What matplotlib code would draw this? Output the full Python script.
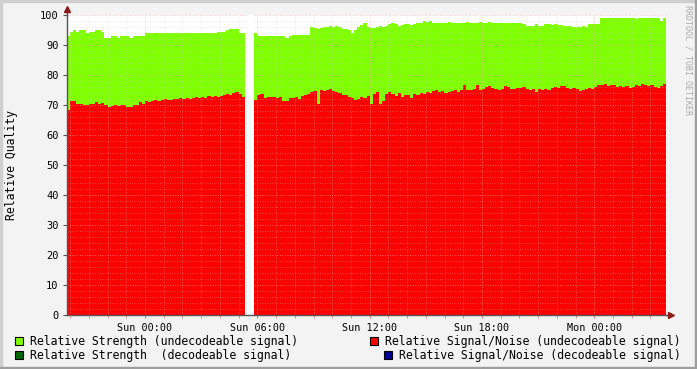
import numpy as np
import matplotlib.pyplot as plt
from matplotlib.patches import Rectangle
from matplotlib.ticker import MultipleLocator

# Data: 10-minute samples, time in hours relative to Sun 00:00
t_start = -4.17
step = 1.0 / 6.0

# top of the stack (relative strength), NaN = no data
strength = [
    93, 94.5, 95, 94.5, 95, 95, 94, 94.5, 94.5, 95,
    95, 94.5, 92.5, 92.5, 93, 93, 92.5, 93, 93, 93,
    92.5, 93, 93, 93, 93, 94, 94, 94, 94, 94,
    94, 94, 94, 94, 94, 94, 94, 94, 94, 94,
    94, 94, 94, 94, 94, 94, 94, 94, 94.3, 94.5,
    94.5, 95, 95.5, 95.5, 95.3, 94, 94, 93.5, np.nan, np.nan,
    94, 93, 93, 93, 93, 93, 93, 93, 93, 93,
    92.5, 93, 93.5, 93.5, 93.5, 93.5, 93.3, 93.3, 96, 95.7,
    95.5, 95.7, 96, 96, 96.3, 96, 96.3, 96, 95.5, 95.3,
    95, 94, 95, 96, 96.7, 97.3, 96, 95.7, 95.7, 96,
    96.3, 96, 96.5, 97, 97.3, 97, 96.5, 96.7, 97, 97,
    96.7, 97, 97.3, 97.3, 98, 97.7, 98, 97.3, 97.3, 97.3,
    97.5, 97.3, 97.7, 97.3, 97.3, 97.5, 97.3, 97.3, 97.7, 97.3,
    97.3, 97.3, 97.7, 97.3, 97.3, 97.7, 97.3, 97.3, 97.3, 97.5,
    97.3, 97.3, 97.3, 97.5, 97.3, 97.3, 97, 96.3, 96.3, 96.3,
    97, 96.3, 96.3, 97, 97, 96.7, 97, 96.7, 96.7, 96.3,
    96.5, 96.3, 96, 96, 96, 96.3, 96, 97, 97, 97,
    97, 99, 99, 99, 99, 99, 99, 99, 99, 99,
    99, 99, 98.7, 99, 99, 99, 99, 99, 99, 99,
    98, 99,
]

# relative signal/noise (red)
snr = [
    68.5, 71.5, 71.5, 70.5, 70.5, 70, 70, 70.5, 70.5, 71,
    70.5, 70.7, 70, 69.3, 69.7, 70, 69.7, 70, 70, 69.5,
    69.3, 70, 70, 71, 70.5, 71.3, 71, 71.3, 71.7, 71.3,
    71.7, 72, 71.7, 71.7, 72, 72, 72.3, 72, 72.3, 72,
    72.3, 72.7, 72.3, 72.7, 72.3, 73, 72.7, 73, 72.7, 73,
    73.3, 73.7, 73.3, 74, 74.3, 73.7, 72.7, 73, np.nan, np.nan,
    71.7, 73.5, 73.7, 72.3, 72.7, 72.7, 72.7, 72.3, 72.7, 71.3,
    71.5, 72.3, 72.5, 72.7, 72, 73, 73.3, 73.7, 74.3, 74.7,
    70.5, 75, 74.7, 75, 75.3, 74.7, 74.3, 74, 73.3, 73.5,
    72.7, 72.3, 71.7, 72, 72.7, 72.3, 73, 70.5, 73.7, 74.3,
    70.3, 71.5, 73.7, 74.3, 73.7, 73, 74, 72.7, 73.5, 73.3,
    72.3, 73.7, 73.3, 74, 73.7, 74.3, 74, 74.7, 75, 74.3,
    74.7, 74, 74.3, 74.7, 75, 74.3, 75, 76.7, 75, 75,
    75.3, 76.7, 75, 75.3, 76, 76.3, 75.7, 75.3, 75, 75.3,
    76.3, 76, 75.3, 75.3, 75.7, 75.7, 76, 75.3, 75, 75.3,
    74.3, 75.3, 75, 75.3, 75, 75.7, 76, 75.7, 76.3, 76.3,
    75.7, 75.3, 75.7, 75.3, 74.7, 75, 75.3, 75.7, 75.3, 76,
    76.7, 76.7, 77, 76.3, 76.7, 76.7, 76, 76.3, 76, 76.3,
    75.7, 76, 76.7, 76.3, 77, 76.7, 76.3, 76.7, 76, 75.7,
    76.3, 77,
]

tick_pos = [0, 6, 12, 18, 24]
tick_labels = ['Sun 00:00', 'Sun 06:00', 'Sun 12:00', 'Sun 18:00', 'Mon 00:00']

legend_items = [
    ('Relative Strength (undecodeable signal)', '#80ff00'),
    ('Relative Signal/Noise (undecodeable signal)', '#ff0000'),
    ('Relative Strength  (decodeable signal)', '#006600'),
    ('Relative Signal/Noise (decodeable signal)', '#000099'),
]

W, H = 697, 369
mono = 'DejaVu Sans Mono'
fig = plt.figure(figsize=(W / 100, H / 100), dpi=100, facecolor='#f3f3f3')

# frame around the canvas
fig.patches.append(Rectangle((0, 1 - 2 / H), 1, 2 / H, transform=fig.transFigure,
                             color='#cfcfcf', zorder=0))
fig.patches.append(Rectangle((0, 0), 2 / W, 1, transform=fig.transFigure,
                             color='#cfcfcf', zorder=0))
fig.patches.append(Rectangle((0, 0), 1, 2 / H, transform=fig.transFigure,
                             color='#9e9e9e', zorder=0))
fig.patches.append(Rectangle((1 - 2 / W, 0), 2 / W, 1, transform=fig.transFigure,
                             color='#9e9e9e', zorder=0))

ax = fig.add_axes([67 / W, 1 - 315 / H, 599 / W, 300 / H])
ax.set_facecolor('white')

strength = np.array(strength, dtype=float)
snr = np.array(snr, dtype=float)
edges = t_start + np.arange(len(strength) + 1) * step
xs = edges
g = np.append(strength, strength[-1])
r = np.append(snr, snr[-1])

ax.fill_between(xs, 0, g, step='post', color='#80ff00', lw=0, antialiased=False, zorder=1)
ax.fill_between(xs, 0, r, step='post', color='#ff0000', lw=0, antialiased=False, zorder=1)

ax.set_xlim(edges[0], edges[-1])
ax.set_ylim(0, 100)

# grid drawn over the data, like rrdtool
for v in np.arange(0, 101, 2):
    if v % 10 == 0:
        ax.axhline(v, color='#f0a8a8', lw=0.6, ls=(0, (1, 2)), alpha=0.8, zorder=2)
    else:
        ax.axhline(v, color='#c8c8c8', lw=0.6, ls=(0, (1, 2)), alpha=0.5, zorder=2)
for h in range(-4, 28):
    if h % 6 == 0:
        ax.axvline(h, color='#f0a8a8', lw=0.6, ls=(0, (1, 2)), alpha=0.8, zorder=2)
    else:
        ax.axvline(h, color='#c8c8c8', lw=0.6, ls=(0, (1, 2)), alpha=0.5, zorder=2)

# missing samples shown blank
for i in np.where(np.isnan(strength))[0]:
    ax.axvspan(edges[i], edges[i + 1], color='white', lw=0, zorder=3)

ax.set_xticks(tick_pos)
ax.set_xticklabels(tick_labels, fontfamily=mono, fontsize=7.3)
ax.xaxis.set_minor_locator(MultipleLocator(1))
ax.set_yticks(np.arange(0, 101, 10))
ax.set_yticklabels([str(v) for v in range(0, 101, 10)], fontfamily=mono, fontsize=7.5)
ax.tick_params(axis='x', which='both', length=2, color='#d08080', pad=4)
ax.tick_params(axis='y', which='major', length=3, color='#555555', pad=3)
ax.tick_params(axis='y', which='minor', length=0)

for s in ['top', 'right']:
    ax.spines[s].set_visible(False)
for s in ['left', 'bottom']:
    ax.spines[s].set_color('#555555')
    ax.spines[s].set_linewidth(1)
    ax.spines[s].set_zorder(4)

# axis arrows
ax.plot([0, 0], [1, 1.02], transform=ax.transAxes, color='#555555', lw=1, clip_on=False)
ax.plot([0], [1.02], marker='^', ms=4, color='#8b1a1a', transform=ax.transAxes, clip_on=False)
ax.plot([1, 1.008], [0, 0], transform=ax.transAxes, color='#555555', lw=1, clip_on=False)
ax.plot([1.008], [0], marker='>', ms=4, color='#8b1a1a', transform=ax.transAxes, clip_on=False)

fig.text(12 / W, 1 - 165 / H, 'Relative Quality', rotation=90, ha='center', va='center',
         fontfamily=mono, fontsize=8.3)
fig.text(688 / W, 1 - 60 / H, 'RRDTOOL / TOBI OETIKER', rotation=270, ha='center', va='center',
         fontfamily=mono, fontsize=6, color='#aaaaaa')

# legend
rows = [1 - 341 / H, 1 - 355 / H]
sq = 8
for k, (label, col) in enumerate(legend_items):
    yc = rows[k // 2]
    if k % 2 == 0:
        sx = 15
        fig.text(30 / W, yc, label, ha='left', va='center', fontfamily=mono, fontsize=8.3)
    else:
        tx = fig.text(681 / W, yc, label, ha='right', va='center', fontfamily=mono, fontsize=8.3)
        fig.canvas.draw()
        bb = tx.get_window_extent()
        sx = bb.x0 - 15
    fig.patches.append(Rectangle((sx / W, yc - sq / 2 / H), sq / W, sq / H,
                                 transform=fig.transFigure, facecolor=col,
                                 edgecolor='black', lw=0.8))

fig.savefig('out.png', dpi=100, facecolor=fig.get_facecolor())
